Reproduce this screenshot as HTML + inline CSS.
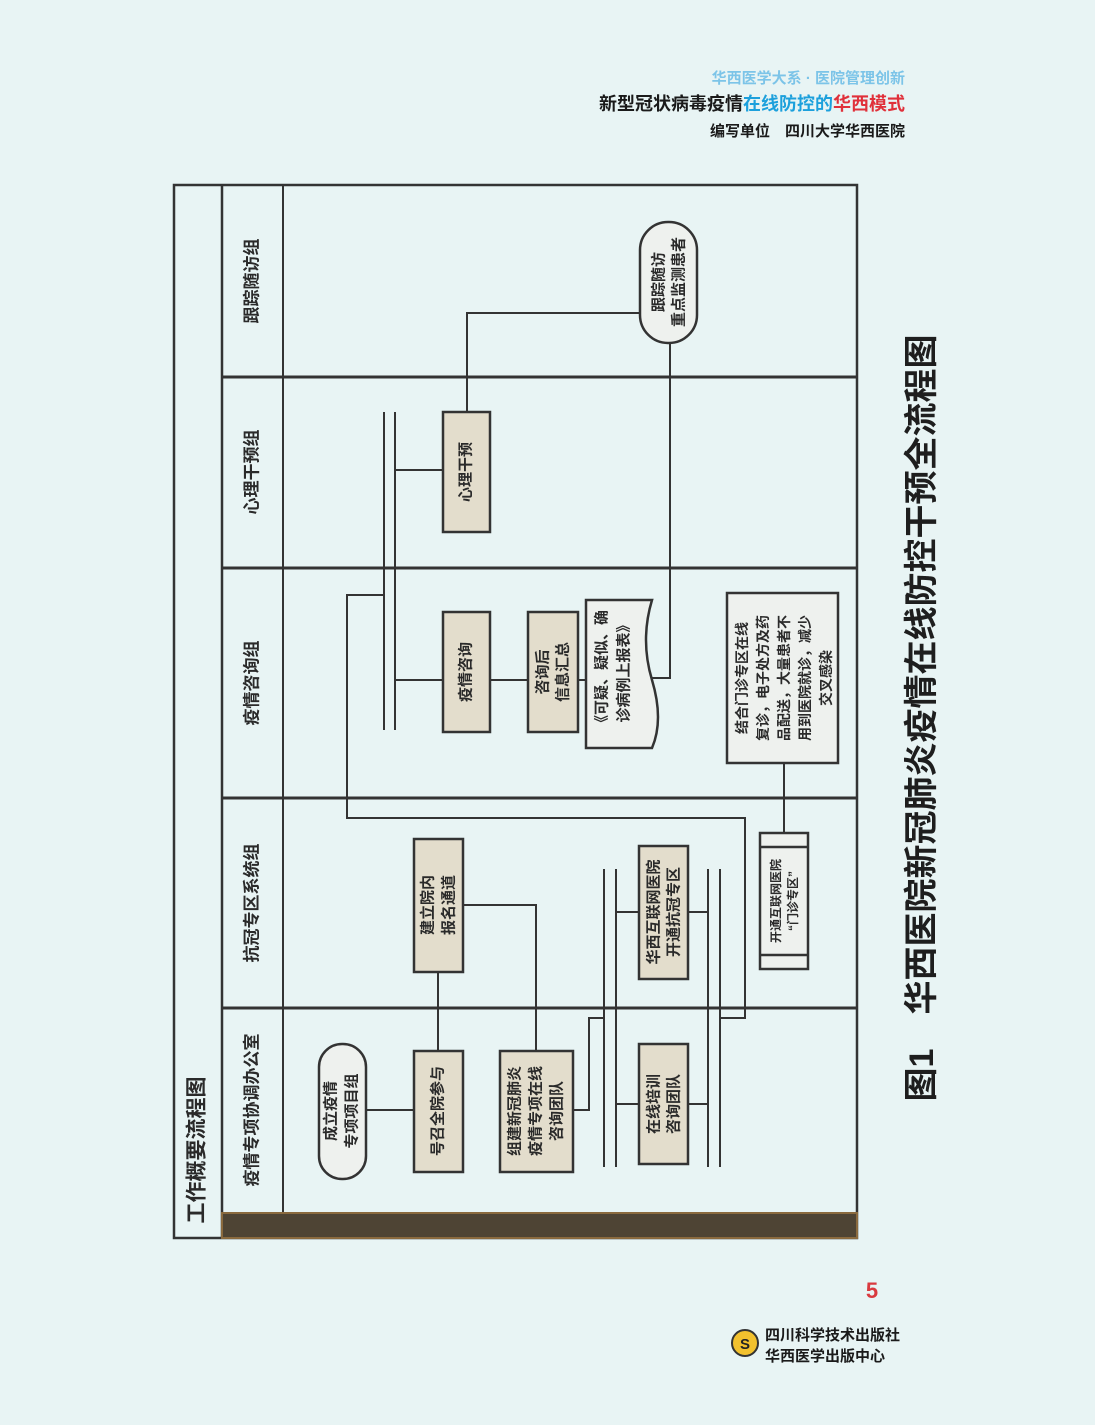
<!DOCTYPE html>
<html><head><meta charset="utf-8"><style>
html,body{margin:0;padding:0;background:#e8f4f4}
svg{display:block}
text{font-family:"Liberation Sans","Noto Sans CJK SC",sans-serif;font-weight:bold;fill:#2a2a2a}
</style></head><body>
<svg width="1095" height="1425" viewBox="0 0 1095 1425" xmlns="http://www.w3.org/2000/svg">
<rect width="1095" height="1425" fill="#e8f4f4"/>
<!-- header -->
<text x="905" y="83" text-anchor="end" font-size="15" style="fill:#7cc4e8">华西医学大系 · 医院管理创新</text>
<text x="905" y="110" text-anchor="end" font-size="18"><tspan style="fill:#1a1a1a">新型冠状病毒疫情</tspan><tspan style="fill:#1ca0dc">在线防控的</tspan><tspan style="fill:#e0303a">华西模式</tspan></text>
<text x="905" y="136" text-anchor="end" font-size="15" style="fill:#1a1a1a">编写单位　四川大学华西医院</text>

<!-- frame -->
<g stroke="#333" fill="none">
<rect x="174" y="185" width="683" height="1053" stroke-width="2.5"/>
<line x1="222" y1="185" x2="222" y2="1238" stroke-width="2.5"/>
<line x1="283" y1="185" x2="283" y2="1213" stroke-width="2"/>
<line x1="222" y1="377" x2="857" y2="377" stroke-width="3"/>
<line x1="222" y1="568" x2="857" y2="568" stroke-width="3"/>
<line x1="222" y1="798" x2="857" y2="798" stroke-width="3"/>
<line x1="222" y1="1008" x2="857" y2="1008" stroke-width="3"/>
</g>
<rect x="222" y="1213" width="635" height="25" fill="#4e4434" stroke="#8a6a3e" stroke-width="2"/>

<!-- title col -->
<text transform="rotate(-90 197 1150)" x="197" y="1150" text-anchor="middle" dominant-baseline="central" font-size="21">工作概要流程图</text>
<!-- lane labels -->
<g font-size="17">
<text transform="rotate(-90 252 281)" x="252" y="281" text-anchor="middle" dominant-baseline="central">跟踪随访组</text>
<text transform="rotate(-90 252 472)" x="252" y="472" text-anchor="middle" dominant-baseline="central">心理干预组</text>
<text transform="rotate(-90 252 683)" x="252" y="683" text-anchor="middle" dominant-baseline="central">疫情咨询组</text>
<text transform="rotate(-90 252 903)" x="252" y="903" text-anchor="middle" dominant-baseline="central">抗冠专区系统组</text>
<text transform="rotate(-90 252 1110)" x="252" y="1110" text-anchor="middle" dominant-baseline="central">疫情专项协调办公室</text>
</g>

<!-- connectors -->
<g stroke="#333" stroke-width="2" fill="none">
<polyline points="640,313 467,313 467,412"/>
<polyline points="670,343 670,678 650,678"/>
<line x1="384" y1="412" x2="384" y2="730"/>
<line x1="395" y1="412" x2="395" y2="730"/>
<line x1="395" y1="470" x2="443" y2="470"/>
<line x1="395" y1="680" x2="443" y2="680"/>
<line x1="490" y1="680" x2="528" y2="680"/>
<line x1="578" y1="680" x2="588" y2="680"/>
<polyline points="384,595 347,595 347,818 745,818 745,1018 721,1018"/>
<line x1="604" y1="869" x2="604" y2="1167"/>
<line x1="616" y1="869" x2="616" y2="1167"/>
<line x1="708" y1="869" x2="708" y2="1167"/>
<line x1="720" y1="869" x2="720" y2="1167"/>
<line x1="616" y1="912" x2="639" y2="912"/>
<line x1="688" y1="912" x2="708" y2="912"/>
<line x1="616" y1="1104" x2="639" y2="1104"/>
<line x1="688" y1="1104" x2="708" y2="1104"/>
<line x1="366" y1="1110" x2="414" y2="1110"/>
<line x1="438" y1="1051" x2="438" y2="972"/>
<polyline points="463,905 536,905 536,1051"/>
<polyline points="573,1110 589,1110 589,1018 604,1018"/>
<line x1="784" y1="763" x2="784" y2="833"/>
</g>

<!-- boxes -->
<g stroke="#333" stroke-width="2.5" fill="#e3ddcc">
<rect x="640" y="222" width="57" height="121" rx="28" fill="#eef1ee"/>
<rect x="443" y="412" width="47" height="120"/>
<rect x="443" y="612" width="47" height="120"/>
<rect x="528" y="612" width="50" height="120"/>
<path d="M586,600 L652,600 Q640,640 652,680 Q664,720 652,748 L586,748 Z" fill="#eef1ee"/>
<rect x="727" y="593" width="111" height="170" fill="#eef1ee"/>
<rect x="414" y="839" width="49" height="133"/>
<rect x="639" y="846" width="49" height="133"/>
<rect x="760" y="833" width="48" height="136" fill="#eef1ee"/>
<line x1="760" y1="847" x2="808" y2="847"/>
<line x1="760" y1="955" x2="808" y2="955"/>
<rect x="319" y="1044" width="47" height="135" rx="23" fill="#eef1ee"/>
<rect x="414" y="1051" width="49" height="121"/>
<rect x="500" y="1051" width="73" height="121"/>
<rect x="639" y="1044" width="49" height="120"/>
</g>

<!-- box texts -->
<g font-size="15" text-anchor="middle" dominant-baseline="central">
<text transform="rotate(-90 659 282)" x="659" y="282">跟踪随访</text>
<text transform="rotate(-90 679 282)" x="679" y="282">重点监测患者</text>
<text transform="rotate(-90 466 472)" x="466" y="472">心理干预</text>
<text transform="rotate(-90 466 672)" x="466" y="672">疫情咨询</text>
<text transform="rotate(-90 543 672)" x="543" y="672">咨询后</text>
<text transform="rotate(-90 563 672)" x="563" y="672">信息汇总</text>
<text transform="rotate(-90 602 670)" x="602" y="670">《可疑、疑似、确</text>
<text transform="rotate(-90 624 670)" x="624" y="670">诊病例上报表》</text>
<text transform="rotate(-90 428 905)" x="428" y="905">建立院内</text>
<text transform="rotate(-90 449 905)" x="449" y="905">报名通道</text>
<text transform="rotate(-90 654 912)" x="654" y="912">华西互联网医院</text>
<text transform="rotate(-90 674 912)" x="674" y="912">开通抗冠专区</text>
<text transform="rotate(-90 331 1111)" x="331" y="1111">成立疫情</text>
<text transform="rotate(-90 352 1111)" x="352" y="1111">专项项目组</text>
<text transform="rotate(-90 438 1111)" x="438" y="1111">号召全院参与</text>
<text transform="rotate(-90 515 1111)" x="515" y="1111">组建新冠肺炎</text>
<text transform="rotate(-90 536 1111)" x="536" y="1111">疫情专项在线</text>
<text transform="rotate(-90 557 1111)" x="557" y="1111">咨询团队</text>
<text transform="rotate(-90 654 1104)" x="654" y="1104">在线培训</text>
<text transform="rotate(-90 674 1104)" x="674" y="1104">咨询团队</text>
</g>
<g font-size="12" text-anchor="middle" dominant-baseline="central">
<text transform="rotate(-90 776 901)" x="776" y="901">开通互联网医院</text>
<text transform="rotate(-90 793 901)" x="793" y="901">“门诊专区”</text>
</g>
<g font-size="14" text-anchor="middle" dominant-baseline="central">
<text transform="rotate(-90 742 678)" x="742" y="678">结合门诊专区在线</text>
<text transform="rotate(-90 763 678)" x="763" y="678">复诊，电子处方及药</text>
<text transform="rotate(-90 784 678)" x="784" y="678">品配送，大量患者不</text>
<text transform="rotate(-90 805 678)" x="805" y="678">用到医院就诊，减少</text>
<text transform="rotate(-90 826 678)" x="826" y="678">交叉感染</text>
</g>

<!-- caption -->
<text transform="rotate(-90 922 718)" x="922" y="718" text-anchor="middle" dominant-baseline="central" font-size="34" style="fill:#1e1e1e">图1　华西医院新冠肺炎疫情在线防控干预全流程图</text>

<!-- footer -->
<text x="872" y="1298" text-anchor="middle" font-size="22" style="fill:#d93a3f">5</text>
<circle cx="745" cy="1343" r="13" fill="#f2c12e" stroke="#333" stroke-width="2"/>
<text x="745" y="1349" text-anchor="middle" font-size="15" style="fill:#222">S</text>
<text x="765" y="1340" font-size="15" style="fill:#1a1a1a">四川科学技术出版社</text>
<text x="765" y="1361" font-size="15" style="fill:#1a1a1a">华西医学出版中心</text>
</svg>
</body></html>
